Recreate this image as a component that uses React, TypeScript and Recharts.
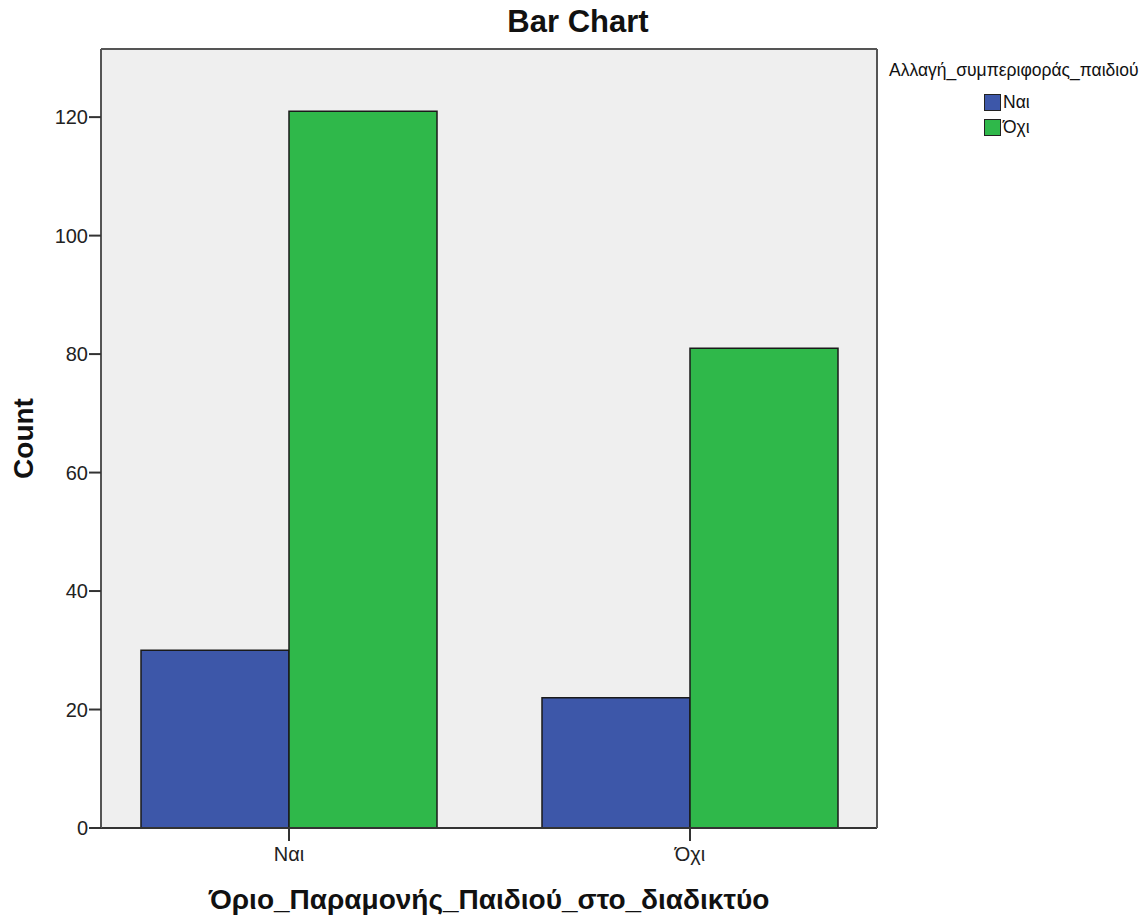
import { BarChart, Bar, XAxis, YAxis, CartesianGrid, Legend } from 'recharts'

const categories = ['Ναι', 'Όχι']
const naiCounts = [30, 22]
const oxiCounts = [121, 81]
const yTicks = [0, 20, 40, 60, 80, 100, 120]

const seriesNames = ['Ναι', 'Όχι']
const seriesColors = ['#3d57a9', '#2fb84a']

const data = categories.map((c, i) => ({ cat: c, nai: naiCounts[i], oxi: oxiCounts[i] }))

const font = '"Liberation Sans", Arial, sans-serif'
const yMax = 131.5

function LegendBox({ payload }: any) {
    return (
        <div style={{ fontFamily: font, color: '#111' }}>
            <div style={{ fontSize: 17.5, whiteSpace: 'nowrap', lineHeight: '20px' }}>Αλλαγή_συμπεριφοράς_παιδιού</div>
            <div style={{ marginLeft: 95, marginTop: 10 }}>
                {(payload || []).map((p: any) => (
                    <div key={p.value} style={{ display: 'flex', alignItems: 'center', height: 25, fontSize: 17.5 }}>
                        <span style={{ width: 15, height: 15, background: p.color, border: '1px solid #222', marginRight: 2 }} />
                        {p.value}
                    </div>
                ))}
            </div>
        </div>
    )
}

export default function App() {
    return (
        <div style={{ position: 'absolute', left: 0, top: 0, width: 1146, height: 918, background: '#fff', fontFamily: font }}>
            <div style={{ position: 'absolute', top: 4, left: 0, width: 1156, textAlign: 'center', fontSize: 31, fontWeight: 'bold', color: '#111' }}>
                Bar Chart
            </div>
            <BarChart
                width={1146}
                height={918}
                data={data}
                margin={{ top: 48, right: 268, bottom: 0, left: 0 }}
                barGap={0}
                barCategoryGap={52.5}
            >
                <CartesianGrid horizontal={false} vertical={false} fill="#efefef" stroke="none" />
                <XAxis
                    dataKey="cat"
                    height={90}
                    padding={{ left: -12.5, right: -13.5 }}
                    tickSize={13}
                    tickMargin={6}
                    tickLine={{ stroke: '#333', strokeWidth: 2 }}
                    axisLine={{ stroke: '#333', strokeWidth: 2 }}
                    tick={{ fill: '#222', fontSize: 20, fontFamily: font }}
                    label={{ value: 'Όριο_Παραμονής_Παιδιού_στο_διαδικτύο', position: 'insideBottom', offset: 9, fontSize: 28, fontWeight: 'bold', fill: '#111', fontFamily: font }}
                />
                <XAxis
                    xAxisId="top"
                    dataKey="cat"
                    type="category"
                    orientation="top"
                    height={1}
                    tick={false}
                    tickLine={false}
                    axisLine={{ stroke: '#555', strokeWidth: 2 }}
                />
                <YAxis
                    width={101}
                    domain={[0, yMax]}
                    ticks={yTicks}
                    tickSize={12}
                    tickMargin={1}
                    tickLine={{ stroke: '#333', strokeWidth: 2 }}
                    axisLine={{ stroke: '#555', strokeWidth: 2 }}
                    tick={{ fill: '#222', fontSize: 20, fontFamily: font }}
                    label={{ value: 'Count', angle: -90, position: 'center', dx: -27, fontSize: 28, fontWeight: 'bold', fill: '#111', fontFamily: font }}
                />
                <YAxis
                    yAxisId="right"
                    type="number"
                    orientation="right"
                    width={1}
                    domain={[0, yMax]}
                    tick={false}
                    tickLine={false}
                    axisLine={{ stroke: '#555', strokeWidth: 2 }}
                />
                <Legend
                    layout="vertical"
                    align="center"
                    verticalAlign="middle"
                    itemSorter="dataKey"
                    wrapperStyle={{ top: 60, left: 889, width: 257 }}
                    content={<LegendBox />}
                />
                <Bar dataKey="nai" name={seriesNames[0]} fill={seriesColors[0]} stroke="#1a1a1a" strokeWidth={1.5} isAnimationActive={false} />
                <Bar dataKey="oxi" name={seriesNames[1]} fill={seriesColors[1]} stroke="#1a1a1a" strokeWidth={1.5} isAnimationActive={false} />
            </BarChart>
        </div>
    )
}
